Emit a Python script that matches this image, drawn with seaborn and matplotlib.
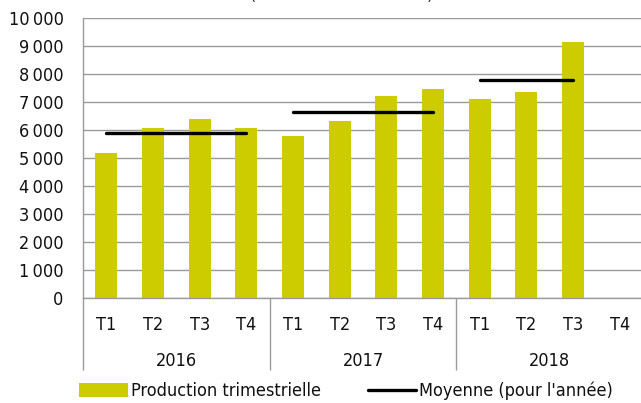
import numpy as np
import pandas as pd
import matplotlib
matplotlib.use("Agg")
import matplotlib.pyplot as plt
import matplotlib.font_manager as fm
from matplotlib.ticker import FuncFormatter
from matplotlib.patches import Patch
from matplotlib.lines import Line2D
import seaborn as sns

# données
annees = ["2016", "2017", "2018"]
trimestres = ["T1", "T2", "T3", "T4"]
production = [5190, 6080, 6390, 6080,
              5770, 6330, 7230, 7470,
              7110, 7350, 9140, np.nan]
moyenne_annuelle = [5900, 6640, 7780]

sns.set_style("white")
# police étroite si disponible
noms = {(f.name, f.stretch) for f in fm.fontManager.ttflist}
if ("DejaVu Sans", "condensed") in noms:
    plt.rcParams["font.family"] = ["DejaVu Sans"]
    plt.rcParams["font.stretch"] = "condensed"
else:
    plt.rcParams["font.family"] = ["DejaVu Sans"]

gris = "#9a9a9a"
jaune = "#CCCC00"
texte = "#111111"
fs = 13

df = pd.DataFrame({
    "annee": np.repeat(annees, len(trimestres)),
    "trimestre": trimestres * len(annees),
    "production": production,
})
df["cle"] = df["annee"] + "-" + df["trimestre"]
df["pos"] = np.arange(len(df))
df["moyenne"] = df["annee"].map(dict(zip(annees, moyenne_annuelle)))
df.loc[df["production"].isna(), "moyenne"] = np.nan

fig = plt.figure(figsize=(6.41, 4.03), dpi=100)
ax = fig.add_axes([83 / 641, 105 / 403, 560 / 641, 280 / 403])

sns.barplot(data=df, x="cle", y="production", order=list(df["cle"]),
            color=jaune, width=0.47, linewidth=0, saturation=1, ax=ax)
sns.lineplot(data=df.dropna(), x="pos", y="moyenne", units="annee",
             estimator=None, color="black", linewidth=2.4,
             solid_capstyle="round", ax=ax, legend=False)

ax.set_xlim(-0.5, 11.5)
ax.set_ylim(0, 10000)
ax.set_yticks(range(0, 10001, 1000))
ax.yaxis.set_major_formatter(FuncFormatter(lambda v, p: f"{int(v):,}".replace(",", "\u2009")))
ax.grid(axis="y", color=gris, linewidth=1)
ax.set_axisbelow(True)
ax.set_xlabel("")
ax.set_ylabel("")

for s in ["top", "right"]:
    ax.spines[s].set_visible(False)
for s in ["left", "bottom"]:
    ax.spines[s].set_color(gris)
    ax.spines[s].set_linewidth(1)

ax.tick_params(axis="y", length=5, width=1, color=gris, pad=9,
               labelsize=fs, labelcolor=texte)
ax.set_xticks(df["pos"], labels=df["trimestre"])
ax.tick_params(axis="x", which="major", length=0, pad=13,
               labelsize=fs, labelcolor=texte)
ax.set_xticks(np.arange(-0.5, 12, 1), minor=True)
ax.tick_params(axis="x", which="minor", length=26, width=1, color=gris)

# deuxième niveau : les années
sec = ax.secondary_xaxis("bottom")
sec.set_xticks([-0.5, 3.5, 7.5, 11.5], labels=[""] * 4)
sec.tick_params(axis="x", which="major", length=52, width=1, color=gris)
sec.set_xticks([1.5, 5.5, 9.5], labels=annees, minor=True)
sec.tick_params(axis="x", which="minor", length=0, pad=39,
                labelsize=fs, labelcolor=texte)
sec.spines["bottom"].set_visible(False)

# titre coupé en haut de l'image, comme sur l'original
fig.text(342 / 641, 403.5 / 403, "(en milliers de tonnes)", ha="center",
         va="baseline", fontsize=fs, color="#333333")

poignees = [Patch(facecolor=jaune, edgecolor="none"),
            Line2D([0], [0], color="black", linewidth=2.4)]
fig.legend(poignees, ["Production trimestrielle", "Moyenne (pour l'année)"],
           loc="center", bbox_to_anchor=(346 / 641, 12 / 403), ncol=2,
           frameon=False, fontsize=fs, handlelength=2.7, handleheight=0.8,
           handletextpad=0.15, columnspacing=2.6, borderaxespad=0,
           labelcolor=texte)

fig.savefig("out.png", dpi=100)
